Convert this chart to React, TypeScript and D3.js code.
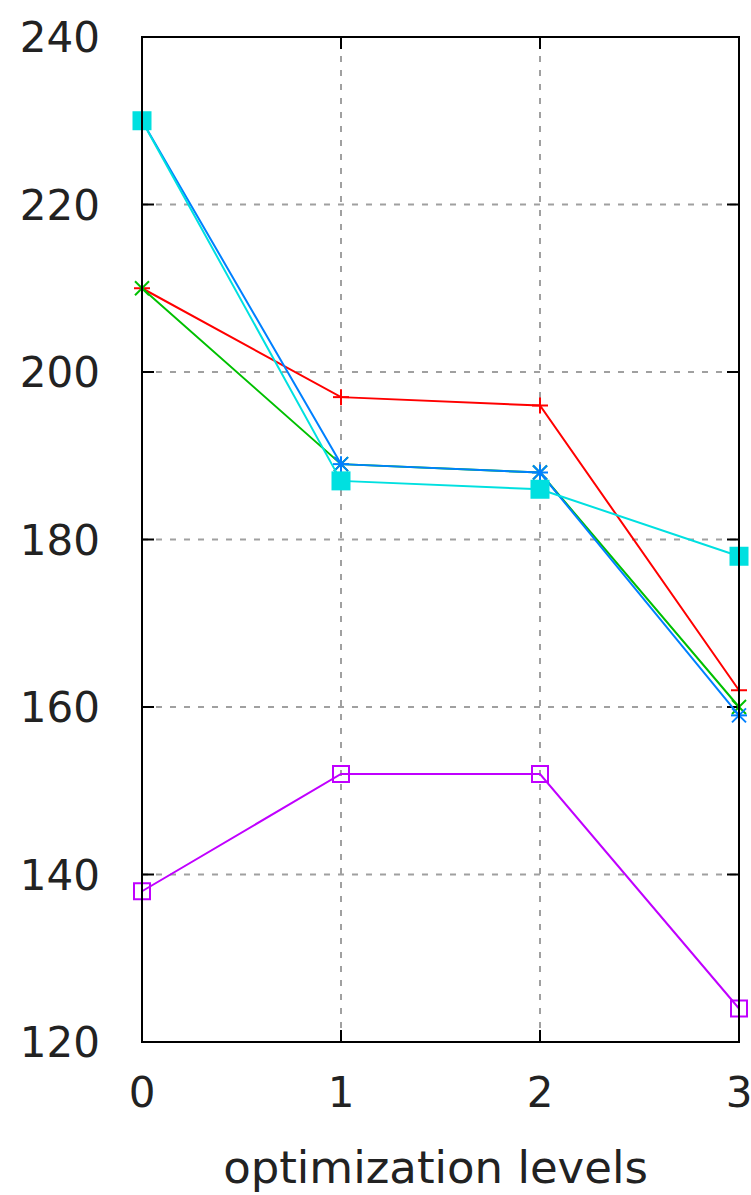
import React from "react";
import * as d3 from "d3";

const levels = [0, 1, 2, 3];
const redPlus = [210, 197, 196, 162];
const greenCross = [210, 189, 188, 160];
const blueStar = [230, 189, 188, 159];
const magentaOpenSquare = [138, 152, 152, 124];
const cyanFilledSquare = [230, 187, 186, 178];
const yTicks = [120, 140, 160, 180, 200, 220, 240];
const xTicks = [0, 1, 2, 3];
const xLabel = "optimization levels";

const series = [
  { values: redPlus, color: "#ff0000", marker: "plus" },
  { values: greenCross, color: "#00c000", marker: "cross" },
  { values: blueStar, color: "#0080ff", marker: "star" },
  { values: magentaOpenSquare, color: "#c000ff", marker: "openSquare" },
  { values: cyanFilledSquare, color: "#00e0e0", marker: "filledSquare" },
];

const W = 751;
const H = 1195;
const L = 142;
const R = 739;
const T = 37;
const B = 1042;

function Marker({ type, x, y, color }: { type: string; x: number; y: number; color: string }) {
  const s = 8;
  const d = 7;
  if (type === "plus")
    return (
      <g stroke={color} strokeWidth={2}>
        <line x1={x - s} x2={x + s} y1={y} y2={y} />
        <line x1={x} x2={x} y1={y - s} y2={y + s} />
      </g>
    );
  if (type === "cross")
    return (
      <g stroke={color} strokeWidth={2}>
        <line x1={x - d} x2={x + d} y1={y - d} y2={y + d} />
        <line x1={x - d} x2={x + d} y1={y + d} y2={y - d} />
      </g>
    );
  if (type === "star")
    return (
      <g stroke={color} strokeWidth={2}>
        <line x1={x - s} x2={x + s} y1={y} y2={y} />
        <line x1={x} x2={x} y1={y - s} y2={y + s} />
        <line x1={x - d} x2={x + d} y1={y - d} y2={y + d} />
        <line x1={x - d} x2={x + d} y1={y + d} y2={y - d} />
      </g>
    );
  if (type === "openSquare")
    return <rect x={x - 8} y={y - 8} width={16} height={16} fill="none" stroke={color} strokeWidth={2} />;
  return <rect x={x - 9.5} y={y - 9.5} width={19} height={19} fill={color} />;
}

export default function App() {
  const x = d3.scaleLinear().domain([0, 3]).range([L, R]);
  const y = d3.scaleLinear().domain([120, 240]).range([B, T]);
  const line = d3
    .line<number>()
    .x((_, i) => x(levels[i]))
    .y((v) => y(v));
  const font = "'DejaVu Sans', sans-serif";
  const tick = 12;
  return (
    <div>
      <style>{`body{margin:0}`}</style>
      <svg width={W} height={H} style={{ display: "block" }}>
        <rect width={W} height={H} fill="#fff" />
        {/* grid */}
        <g stroke="#a0a0a0" strokeWidth={2} strokeDasharray="6,8">
          {yTicks
            .filter((t) => t !== 120 && t !== 240)
            .map((t) => (
              <line key={"gy" + t} x1={L} x2={R} y1={y(t)} y2={y(t)} />
            ))}
          {xTicks
            .filter((t) => t !== 0 && t !== 3)
            .map((t) => (
              <line key={"gx" + t} x1={x(t)} x2={x(t)} y1={B} y2={T} />
            ))}
        </g>
        {/* ticks */}
        <g stroke="#000" strokeWidth={2}>
          {yTicks.map((t) => (
            <g key={"ty" + t}>
              <line x1={L} x2={L + tick} y1={y(t)} y2={y(t)} />
              <line x1={R} x2={R - tick} y1={y(t)} y2={y(t)} />
            </g>
          ))}
          {xTicks.map((t) => (
            <g key={"tx" + t}>
              <line x1={x(t)} x2={x(t)} y1={B} y2={B - tick} />
              <line x1={x(t)} x2={x(t)} y1={T} y2={T + tick} />
            </g>
          ))}
        </g>
        {/* series */}
        {series.map((s, si) => (
          <g key={"s" + si}>
            <path d={line(s.values) || ""} fill="none" stroke={s.color} strokeWidth={2} />
            {s.values.map((v, i) => (
              <Marker key={i} type={s.marker} x={x(levels[i])} y={y(v)} color={s.color} />
            ))}
          </g>
        ))}
        {/* frame */}
        <rect x={L} y={T} width={R - L} height={B - T} fill="none" stroke="#000" strokeWidth={2} />
        {/* labels */}
        <g fontFamily={font} fill="#222">
          {yTicks.map((t) => (
            <text key={"ly" + t} x={100} y={y(t)} dy="0.36em" textAnchor="end" fontSize={42}>
              {t}
            </text>
          ))}
          {xTicks.map((t) => (
            <text key={"lx" + t} x={x(t)} y={1107} textAnchor="middle" fontSize={42}>
              {t}
            </text>
          ))}
          <text x={(L + R) / 2 - 5} y={1183} textAnchor="middle" fontSize={45}>
            {xLabel}
          </text>
        </g>
      </svg>
    </div>
  );
}
